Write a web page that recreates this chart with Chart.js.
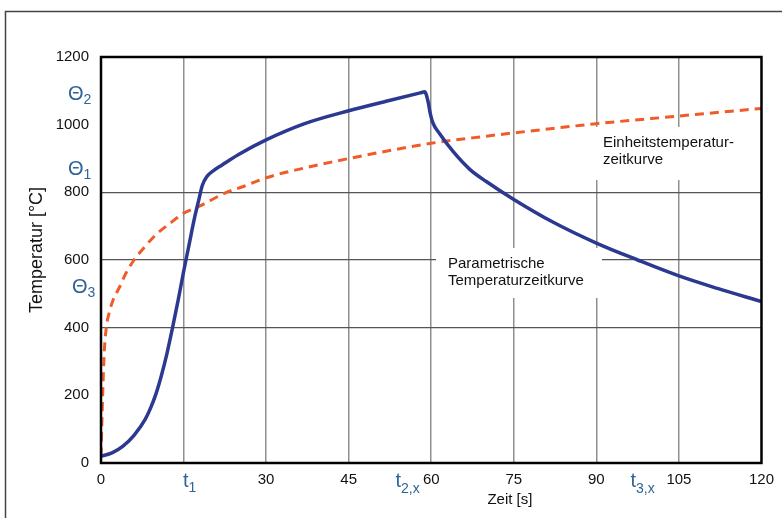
<!DOCTYPE html>
<html>
<head>
<meta charset="utf-8">
<script src="https://cdn.jsdelivr.net/npm/chart.js@4/dist/chart.umd.min.js"></script>
<style>
  body { margin: 0; background: #fff; }
  #wrap { width: 782px; height: 518px; }
</style>
</head>
<body>
<div id="wrap"><canvas id="chart" width="782" height="518"></canvas></div>
<script>
// Parametrische Temperaturzeitkurve vs. Einheitstemperaturzeitkurve

const paramTime = [0, 2, 4, 6, 8, 9, 10, 11, 12, 13, 14, 15, 16, 17, 17.8, 18.4, 19.2, 20.5, 22, 25, 30, 37, 45, 52, 58, 58.8, 59.4, 59.8, 60.3, 61.5, 64, 67, 70, 75, 82, 90, 97.5, 105, 112, 120];
const paramTemp = [20, 30, 50, 82, 128, 162, 205, 260, 325, 400, 480, 565, 645, 725, 780, 820, 846, 865, 881, 912, 955, 1003, 1041, 1070, 1094, 1097, 1070, 1035, 1005, 974, 920, 868, 832, 779, 713, 650, 600, 553, 516, 477];

const etkTime = [0, 0.3, 0.6, 1, 1.5, 2.2, 3.4, 4.5, 6, 8, 10, 12.5, 15, 18, 22.8, 26, 30, 37, 45, 52, 60, 70, 80, 90, 100, 110, 120];
const etkTemp = [20, 200, 330, 405, 445, 482, 521, 560, 600, 640, 675, 708, 738, 760, 800, 818, 843, 872, 900, 922, 945, 966, 985, 1003, 1018, 1033, 1048];

const yGridValues = [400, 600, 800];

const FONT = '"Liberation Sans", Arial, sans-serif';
const LABEL_BLUE = '#2f6496';

function toPoints(xs, ys) {
  return xs.map((x, i) => ({ x, y: ys[i] }));
}

function subText(ctx, main, sub, x, y, size, subSize, drop) {
  ctx.font = `${size}px ${FONT}`;
  ctx.textAlign = 'left';
  ctx.textBaseline = 'alphabetic';
  ctx.fillText(main, x, y);
  const w = ctx.measureText(main).width;
  ctx.font = `${subSize}px ${FONT}`;
  ctx.fillText(sub, x + w, y + drop);
}

const decor = {
  id: 'decor',
  beforeDraw(chart) {
    const { ctx } = chart;
    ctx.save();
    ctx.strokeStyle = '#444';
    ctx.lineWidth = 1.5;
    ctx.beginPath();
    ctx.moveTo(5.5, 518);
    ctx.lineTo(5.5, 11.5);
    ctx.lineTo(782, 11.5);
    ctx.stroke();
    ctx.restore();
  },
  beforeDatasetsDraw(chart) {
    const { ctx } = chart;
    ctx.save();
    // white backgrounds behind the curve names hide the grid
    ctx.fillStyle = '#fff';
    ctx.fillRect(592, 127, 150, 53);
    ctx.fillRect(436, 248, 166, 50);
    ctx.fillStyle = '#111';
    ctx.font = `15px ${FONT}`;
    ctx.textAlign = 'left';
    ctx.textBaseline = 'alphabetic';
    ctx.fillText('Einheitstemperatur-', 603, 147);
    ctx.fillText('zeitkurve', 603, 164);
    ctx.fillText('Parametrische', 448, 268);
    ctx.fillText('Temperaturzeitkurve', 448, 285);
    ctx.restore();
  },
  afterDatasetsDraw(chart) {
    const { ctx, chartArea: a, scales } = chart;
    ctx.save();
    ctx.strokeStyle = '#000';
    ctx.lineWidth = 2.5;
    ctx.strokeRect(a.left, a.top, a.right - a.left, a.bottom - a.top);

    ctx.fillStyle = LABEL_BLUE;
    const ys = scales.y;
    subText(ctx, 'Θ', '2', 68, ys.getPixelForValue(1073), 20, 14, 4);
    subText(ctx, 'Θ', '1', 68, ys.getPixelForValue(851), 20, 14, 4);
    subText(ctx, 'Θ', '3', 72, ys.getPixelForValue(502), 20, 14, 4);

    const xs = scales.x;
    subText(ctx, 't', '1', xs.getPixelForValue(14.9), 487, 20, 14, 5);
    subText(ctx, 't', '2,x', xs.getPixelForValue(53.5), 487, 20, 14, 6);
    subText(ctx, 't', '3,x', xs.getPixelForValue(96.2), 487, 20, 14, 6);

    ctx.fillStyle = '#111';
    ctx.font = `15px ${FONT}`;
    ctx.textAlign = 'center';
    ctx.textBaseline = 'middle';
    ctx.fillText('Zeit [s]', xs.getPixelForValue(74.3), 500);

    ctx.font = `18px ${FONT}`;
    ctx.translate(37, 250);
    ctx.rotate(-Math.PI / 2);
    ctx.fillText('Temperatur [°C]', 0, 0);
    ctx.restore();
  },
};

new Chart(document.getElementById('chart'), {
  type: 'line',
  data: {
    datasets: [
      {
        label: 'Parametrische Temperaturzeitkurve',
        data: toPoints(paramTime, paramTemp),
        borderColor: '#2b3990',
        borderWidth: 3.5,
        pointRadius: 0,
        cubicInterpolationMode: 'monotone',
      },
      {
        label: 'Einheitstemperaturzeitkurve',
        data: toPoints(etkTime, etkTemp),
        borderColor: '#f15a29',
        borderWidth: 3,
        borderDash: [9, 6],
        pointRadius: 0,
        cubicInterpolationMode: 'monotone',
      },
    ],
  },
  options: {
    responsive: false,
    animation: false,
    layout: { padding: { left: 0, top: 57, right: 20, bottom: 0 } },
    plugins: {
      legend: { display: false },
      tooltip: { enabled: false },
    },
    scales: {
      x: {
        type: 'linear',
        min: 0,
        max: 120,
        afterFit(scale) { scale.height = 55; },
        ticks: {
          stepSize: 15,
          padding: 8,
          color: '#111',
          font: { family: FONT, size: 15 },
          callback: (v) => (v === 15 ? '' : String(v)),
        },
        grid: {
          drawTicks: false,
          lineWidth: 1.5,
          color: (c) => (c.tick && c.tick.value > 0 && c.tick.value < 120 ? '#8f8f8f' : 'transparent'),
        },
        border: { display: false },
      },
      y: {
        min: 0,
        max: 1200,
        afterFit(scale) { scale.width = 101; },
        ticks: {
          stepSize: 200,
          padding: 12,
          color: '#111',
          font: { family: FONT, size: 15 },
          callback: (v) => String(v),
        },
        grid: {
          drawTicks: false,
          lineWidth: 1.2,
          color: (c) => (c.tick && yGridValues.includes(c.tick.value) ? '#555' : 'transparent'),
        },
        border: { display: false },
      },
    },
  },
  plugins: [decor],
});
</script>
</body>
</html>
